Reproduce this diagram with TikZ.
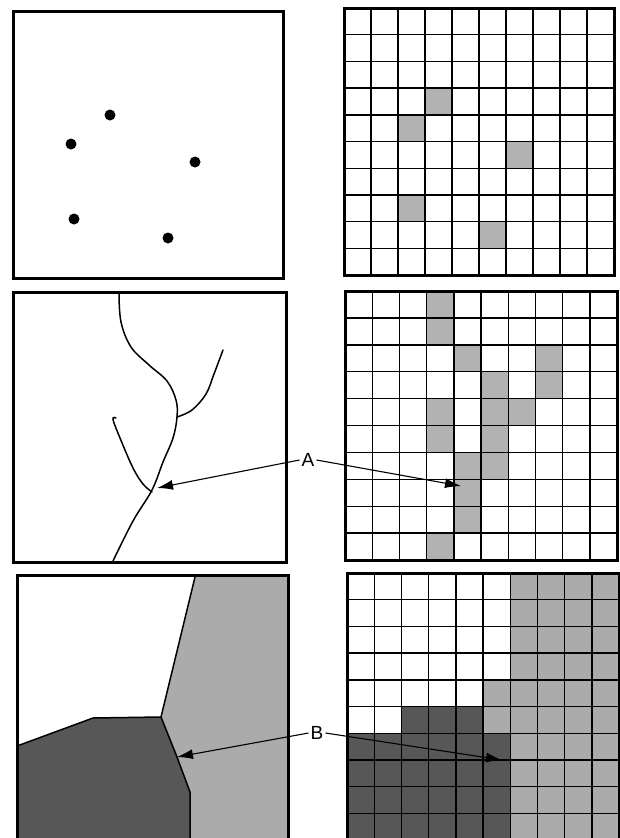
\documentclass[tikz,border=0pt]{standalone}
\usepackage{fontspec}
\setmainfont{Liberation Sans}
\usetikzlibrary{arrows.meta}
\begin{document}
\begin{tikzpicture}[x=1pt,y=-1pt,
  frame/.style={line width=3pt},
  gridln/.style={line width=1.4pt},
  curve/.style={line width=1.5pt,line cap=round},
  lab/.style={font=\fontsize{19}{19}\selectfont,inner sep=2pt},
  pointer/.style={line width=1.1pt,-{Latex[length=16pt,width=10pt]}},
  dot/.style={circle,fill=black,inner sep=0pt,minimum size=11pt}
]
\useasboundingbox (0,0) rectangle (620,838);
\fill[white] (0,0) rectangle (620,838);
\clip (0,0) rectangle (620,838);

% ---------- top left: points ----------
\draw[frame] (13,11) rectangle (283,278);
\node[dot] (d1) at (110,115) {};
\node[dot] (d2) at (71,144) {};
\node[dot] (d3) at (195,162) {};
\node[dot] (d4) at (74,219) {};
\node[dot] (d5) at (168,238) {};

% ---------- top right: grid ----------
\begin{scope}[shift={(344,8)},xscale=27,yscale=26.7]
  \foreach \c/\r in {3/3,2/4,6/5,2/7,5/8}
    \fill[black!30] (\c,\r) rectangle ++(1,1);
  \foreach \i in {1,...,9} {
    \draw[gridln] (\i,0) -- (\i,10);
    \draw[gridln] (0,\i) -- (10,\i);
  }
  \draw[frame] (0,0) rectangle (10,10);
\end{scope}

% ---------- middle left: lines ----------
\draw[frame] (13,292) rectangle (286,562);
\draw[curve] plot[smooth,tension=0.6] coordinates {(119,293) (121,322) (131,347) (149,365) (167,381) (176,400) (177,417) (173,438) (163,462) (152,490) (133,521) (113,561)};
\draw[curve] plot[smooth,tension=0.6] coordinates {(177,417) (192,410) (206,394) (214,374) (223,350)};
\draw[curve] plot[smooth,tension=0.6] coordinates {(116,418) (113,419.5) (120,438) (133,468) (143,484) (152,492)};

% ---------- middle right: grid ----------
\begin{scope}[shift={(345,291)},xscale=27.2,yscale=26.9]
  \foreach \c/\r in {3/0,3/1,4/2,7/2,5/3,7/3,3/4,5/4,6/4,3/5,5/5,4/6,5/6,4/7,4/8,3/9}
    \fill[black!30] (\c,\r) rectangle ++(1,1);
  \foreach \i in {1,...,9} {
    \draw[gridln] (\i,0) -- (\i,10);
    \draw[gridln] (0,\i) -- (10,\i);
  }
  \draw[frame] (0,0) rectangle (10,10);
\end{scope}

% ---------- bottom left: areas ----------
\fill[black!33] (17,575) rectangle (288,850);
\fill[white] (17,577) -- (195,577) -- (161,717) -- (93,718) -- (17,746) -- cycle;
\fill[black!66] (17,746) -- (93,718) -- (161,717) -- (177,757) -- (190,792) -- (190,850) -- (17,850) -- cycle;
\draw[line width=1.5pt,line join=round] (195,577) -- (161,717) -- (177,757) -- (190,792) -- (190,850);
\draw[line width=1.5pt,line join=round] (17,746) -- (93,718) -- (161,717);
\draw[frame] (17,575) rectangle (288,850);

% ---------- bottom right: grid ----------
\begin{scope}[shift={(347,573)},xscale=27.2,yscale=26.7]
  \fill[black!33] (6,0) -- (10,0) -- (10,10) -- (6,10) -- (6,6) -- (5,6) -- (5,4) -- (6,4) -- cycle;
  \fill[black!66] (0,6) -- (2,6) -- (2,5) -- (5,5) -- (5,6) -- (6,6) -- (6,10) -- (0,10) -- cycle;
  \foreach \i in {1,...,9} {
    \draw[gridln] (\i,0) -- (\i,10);
    \draw[gridln] (0,\i) -- (10,\i);
  }
  \draw[frame] (0,0) rectangle (10,10);
\end{scope}

% ---------- labels and pointers ----------
\node[lab] (A) at (308,460) {A};
\coordinate (a1) at (157,488);
\coordinate (a2) at (461,486);
\draw[pointer] (A.west) -- (a1);
\draw[pointer] (A.east) -- (a2);

\node[lab] (B) at (317,733) {B};
\coordinate (b1) at (177,757);
\coordinate (b2) at (502,760);
\draw[pointer] (B.west) -- (b1);
\draw[pointer] (B.east) -- (b2);
\end{tikzpicture}
\end{document}
